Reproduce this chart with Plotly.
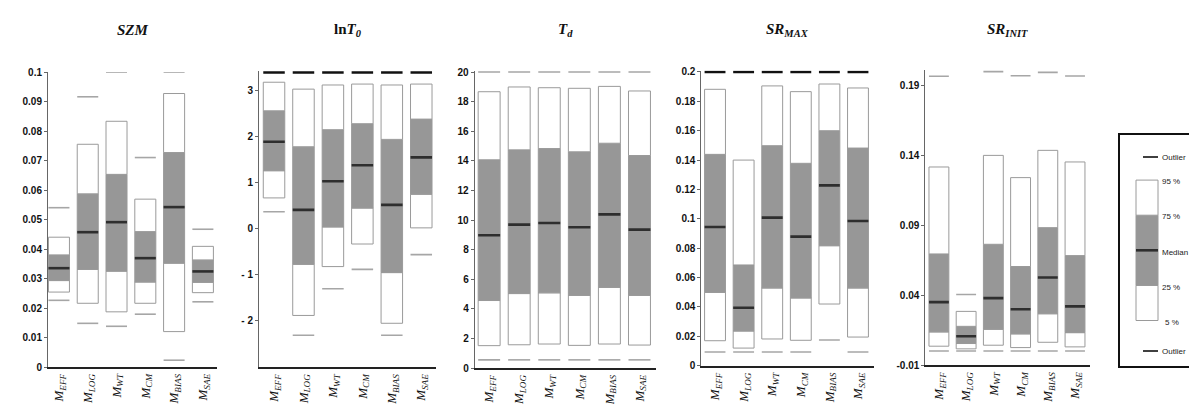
import plotly.graph_objects as go

# ---------------- data ----------------
CATS = ["EFF", "LOG", "WT", "CM", "BIAS", "SAE"]
CAT_LABELS = ["<i>M</i><sub><i>%s</i></sub>" % c for c in CATS]

SZM_P5 = [0.0254, 0.0216, 0.0187, 0.0216, 0.0120, 0.0252]
SZM_P25 = [0.0293, 0.0331, 0.0325, 0.0288, 0.0352, 0.0287]
SZM_MED = [0.0335, 0.0457, 0.0491, 0.0369, 0.0542, 0.0324]
SZM_P75 = [0.0380, 0.0587, 0.0653, 0.0459, 0.0727, 0.0363]
SZM_P95 = [0.0440, 0.0755, 0.0833, 0.0569, 0.0927, 0.0409]
SZM_OUT_HI = [0.0540, 0.0916, 0.1000, 0.0710, 0.1000, 0.0467]
SZM_OUT_LO = [0.0226, 0.0148, 0.0138, 0.0179, 0.0023, 0.0221]

LNT0_P5 = [0.66, -1.89, -0.83, -0.34, -2.06, 0.01]
LNT0_P25 = [1.25, -0.78, 0.03, 0.44, -0.96, 0.74]
LNT0_MED = [1.88, 0.40, 1.02, 1.37, 0.51, 1.54]
LNT0_P75 = [2.55, 1.77, 2.14, 2.27, 1.93, 2.37]
LNT0_P95 = [3.17, 3.02, 3.11, 3.13, 3.11, 3.13]
LNT0_OUT_HI = [3.38, 3.38, 3.38, 3.38, 3.38, 3.38]
LNT0_OUT_LO = [0.36, -2.32, -1.31, -0.89, -2.32, -0.57]

TD_P5 = [1.51, 1.57, 1.62, 1.53, 1.62, 1.55]
TD_P25 = [4.56, 5.03, 5.08, 4.90, 5.44, 4.90]
TD_MED = [8.97, 9.69, 9.80, 9.51, 10.38, 9.35]
TD_P75 = [14.07, 14.74, 14.83, 14.61, 15.19, 14.36]
TD_P95 = [18.67, 18.99, 18.94, 18.90, 19.03, 18.72]
TD_OUT_HI = [20, 20, 20, 20, 20, 20]
TD_OUT_LO = [0.55, 0.55, 0.55, 0.55, 0.55, 0.55]

SRMAX_P5 = [0.0170, 0.0120, 0.0182, 0.0173, 0.0420, 0.0195]
SRMAX_P25 = [0.0499, 0.0236, 0.0529, 0.0461, 0.0817, 0.0529]
SRMAX_MED = [0.0944, 0.0395, 0.1008, 0.0879, 0.1228, 0.0985]
SRMAX_P75 = [0.1439, 0.0686, 0.1498, 0.1378, 0.1600, 0.1482]
SRMAX_P95 = [0.1882, 0.1400, 0.1905, 0.1866, 0.1918, 0.1891]
SRMAX_OUT_HI = [0.2, 0.2, 0.2, 0.2, 0.2, 0.2]
SRMAX_OUT_LO = [0.0093, 0.0093, 0.0093, 0.0093, 0.0175, 0.0093]

SRINIT_P5 = [0.0036, 0.0017, 0.0043, 0.0026, 0.0064, 0.0031]
SRINIT_P25 = [0.0138, 0.0055, 0.0157, 0.0124, 0.0268, 0.0133]
SRINIT_MED = [0.0351, 0.0107, 0.0380, 0.0300, 0.0527, 0.0321]
SRINIT_P75 = [0.0696, 0.0178, 0.0765, 0.0606, 0.0884, 0.0684]
SRINIT_P95 = [0.1318, 0.0285, 0.1401, 0.1242, 0.1437, 0.1354]
SRINIT_OUT_HI = [0.1967, 0.0406, 0.2000, 0.1971, 0.1995, 0.1969]
SRINIT_OUT_LO = [0.0002, 0.0002, 0.0002, 0.0002, 0.0002, 0.0002]

TITLES = ["<b><i>SZM</i></b>",
          "<b>ln<i>T</i><sub><i>0</i></sub></b>",
          "<b><i>T</i><sub><i>d</i></sub></b>",
          "<b><i>SR</i><sub><i>MAX</i></sub></b>",
          "<b><i>SR</i><sub><i>INIT</i></sub></b>"]

SZM_TICKS = [0, 0.01, 0.02, 0.03, 0.04, 0.05, 0.06, 0.07, 0.08, 0.09, 0.1]
SZM_TICKTEXT = ["0", "0.01", "0.02", "0.03", "0.04", "0.05", "0.06", "0.07", "0.08", "0.09", "0.1"]
LNT0_TICKS = [-2, -1, 0, 1, 2, 3]
LNT0_TICKTEXT = ["- 2", "- 1", "0", "1", "2", "3"]
TD_TICKS = [0, 2, 4, 6, 8, 10, 12, 14, 16, 18, 20]
TD_TICKTEXT = [str(v) for v in TD_TICKS]
SRMAX_TICKS = [0, 0.02, 0.04, 0.06, 0.08, 0.1, 0.12, 0.14, 0.16, 0.18, 0.2]
SRMAX_TICKTEXT = ["0", "0.02", "0.04", "0.06", "0.08", "0.1", "0.12", "0.14", "0.16", "0.18", "0.2"]
SRINIT_TICKS = [-0.01, 0.04, 0.09, 0.14, 0.19]
SRINIT_TICKTEXT = ["-0.01", "0.04", "0.09", "0.14", "0.19"]

LEGEND_LABELS = ["5 %", "25 %", "Median", "75 %", "95 %"]
LEGEND_LEVELS = [0, 1, 2, 3, 4]

# ---------------- styling / layout ----------------
W, H = 1197, 404
GRAY_FILL = "#979797"
BOX_LINE = "#9a9a9a"
MED_COLOR = "#2e2e2e"
OUT_GRAY = "#a6a6a6"
OUT_BLACK = "#111111"
BOX_W = 0.73
HW = 0.365

panels = [
    dict(p5=SZM_P5, p25=SZM_P25, med=SZM_MED, p75=SZM_P75, p95=SZM_P95,
         hi=SZM_OUT_HI, lo=SZM_OUT_LO, hi_col=OUT_GRAY, hi_w=1.6,
         xpx=(40, 209), ypx=(64, 359), yr=(0, 0.1), xr=(-0.38, 5.49),
         ticks=SZM_TICKS, ticktext=SZM_TICKTEXT),
    dict(p5=LNT0_P5, p25=LNT0_P25, med=LNT0_MED, p75=LNT0_P75, p95=LNT0_P95,
         hi=LNT0_OUT_HI, lo=LNT0_OUT_LO, hi_col=OUT_BLACK, hi_w=2.6,
         xpx=(251, 428), ypx=(62.7, 359.3), yr=(-3.015, 3.42), xr=(-0.51, 5.5),
         ticks=LNT0_TICKS, ticktext=LNT0_TICKTEXT),
    dict(p5=TD_P5, p25=TD_P25, med=TD_MED, p75=TD_P75, p95=TD_P95,
         hi=TD_OUT_HI, lo=TD_OUT_LO, hi_col=OUT_GRAY, hi_w=1.6,
         xpx=(466.7, 648), ypx=(63, 360), yr=(0, 20.07), xr=(-0.48, 5.55),
         ticks=TD_TICKS, ticktext=TD_TICKTEXT),
    dict(p5=SRMAX_P5, p25=SRMAX_P25, med=SRMAX_MED, p75=SRMAX_P75, p95=SRMAX_P95,
         hi=SRMAX_OUT_HI, lo=SRMAX_OUT_LO, hi_col=OUT_BLACK, hi_w=2.6,
         xpx=(693.3, 866), ypx=(62.5, 357.7), yr=(0, 0.201), xr=(-0.48, 5.56),
         ticks=SRMAX_TICKS, ticktext=SRMAX_TICKTEXT),
    dict(p5=SRINIT_P5, p25=SRINIT_P25, med=SRINIT_MED, p75=SRINIT_P75, p95=SRINIT_P95,
         hi=SRINIT_OUT_HI, lo=SRINIT_OUT_LO, hi_col=OUT_GRAY, hi_w=1.6,
         xpx=(917.3, 1082), ypx=(61.7, 357.2), yr=(-0.01, 0.2014), xr=(-0.5, 5.55),
         ticks=SRINIT_TICKS, ticktext=SRINIT_TICKTEXT),
]


def seg(xs, vals, hw):
    X, Y = [], []
    for x, v in zip(xs, vals):
        if v is None:
            continue
        X += [x - hw, x + hw, None]
        Y += [v, v, None]
    return X, Y


fig = go.Figure()
layout = dict(width=W, height=H, margin=dict(l=0, r=0, t=0, b=0),
              paper_bgcolor="white", plot_bgcolor="white",
              showlegend=False, barmode="overlay", annotations=[])

XS = list(range(len(CATS)))
for i, p in enumerate(panels):
    n = "" if i == 0 else str(i + 1)
    xa, ya = "x" + n, "y" + n
    segments = [
        (p["p5"], p["p25"], "white"),
        (p["p25"], p["p75"], GRAY_FILL),
        (p["p75"], p["p95"], "white"),
    ]
    for lo_arr, hi_arr, col in segments:
        fig.add_trace(go.Bar(
            x=XS, base=lo_arr, y=[h - l for l, h in zip(lo_arr, hi_arr)],
            width=BOX_W, marker=dict(color=col, line=dict(color=BOX_LINE, width=1)),
            xaxis=xa, yaxis=ya, hoverinfo="skip"))
    mx, my = seg(XS, p["med"], HW)
    fig.add_trace(go.Scatter(x=mx, y=my, mode="lines",
                             line=dict(color=MED_COLOR, width=2.6),
                             xaxis=xa, yaxis=ya, hoverinfo="skip"))
    hx, hy = seg(XS, p["hi"], HW)
    fig.add_trace(go.Scatter(x=hx, y=hy, mode="lines",
                             line=dict(color=p["hi_col"], width=p["hi_w"]),
                             xaxis=xa, yaxis=ya, hoverinfo="skip"))
    lx, ly = seg(XS, p["lo"], HW)
    fig.add_trace(go.Scatter(x=lx, y=ly, mode="lines",
                             line=dict(color=OUT_GRAY, width=1.6),
                             xaxis=xa, yaxis=ya, hoverinfo="skip"))

    x0, x1 = p["xpx"]
    y0, y1 = p["ypx"]
    layout["xaxis" + n] = dict(
        domain=[x0 / W, x1 / W], range=list(p["xr"]), anchor=ya,
        tickmode="array", tickvals=XS, ticktext=CAT_LABELS, tickangle=-90,
        tickfont=dict(family="Liberation Serif", size=13, color="#111"),
        showline=True, linecolor="#222", linewidth=1.6, ticks="",
        showgrid=False, zeroline=False, automargin=False, fixedrange=True)
    layout["yaxis" + n] = dict(
        domain=[1 - y1 / H, 1 - y0 / H], range=list(p["yr"]), anchor=xa,
        tickmode="array", tickvals=p["ticks"], ticktext=p["ticktext"],
        tickfont=dict(family="Liberation Sans", size=10, color="#111", weight="bold"),
        showline=True, linecolor="#666", linewidth=1, ticks="outside",
        ticklen=3, tickcolor="#666",
        showgrid=False, zeroline=False, automargin=False, fixedrange=True)
    layout["annotations"].append(dict(
        text=TITLES[i], xref="paper", yref="paper",
        x=(x0 + x1) / 2 / W, y=1 - 22 / H, xanchor="center", yanchor="middle",
        showarrow=False, font=dict(family="Liberation Serif", size=15, color="#111")))

# ---------------- legend key (own axes, px-like units) ----------------
LX0, LX1, LY0, LY1 = 1112, 1189, 127, 358
STEP = 35.1
lyr = [(312.5 - LY1) / STEP, (312.5 - LY0) / STEP]
lk = "6"
box_c = 27
for lo_l, hi_l, col in [(0, 1, "white"), (1, 3, GRAY_FILL), (3, 4, "white")]:
    fig.add_trace(go.Bar(x=[box_c], base=[LEGEND_LEVELS[lo_l]],
                         y=[LEGEND_LEVELS[hi_l] - LEGEND_LEVELS[lo_l]], width=22,
                         marker=dict(color=col, line=dict(color=BOX_LINE, width=1)),
                         xaxis="x" + lk, yaxis="y" + lk, hoverinfo="skip"))
fig.add_trace(go.Scatter(x=[box_c - 11, box_c + 11], y=[LEGEND_LEVELS[2]] * 2, mode="lines",
                         line=dict(color=MED_COLOR, width=2.6),
                         xaxis="x" + lk, yaxis="y" + lk, hoverinfo="skip"))
out_top = (312.5 - 149) / STEP
out_bot = (312.5 - 343) / STEP
for yv in (out_top, out_bot):
    fig.add_trace(go.Scatter(x=[23, 38], y=[yv, yv], mode="lines",
                             line=dict(color=OUT_BLACK, width=1.6),
                             xaxis="x" + lk, yaxis="y" + lk, hoverinfo="skip"))
lab_font = dict(family="Liberation Sans", size=8, color="#222")
for lab, lev in zip(LEGEND_LABELS, LEGEND_LEVELS):
    layout["annotations"].append(dict(text=lab, xref="x" + lk, yref="y" + lk,
                                      x=40 if lab != "5 %" else 43, y=lev - 0.05,
                                      xanchor="left", yanchor="middle",
                                      showarrow=False, font=lab_font))
for yv in (out_top, out_bot):
    layout["annotations"].append(dict(text="Outlier", xref="x" + lk, yref="y" + lk,
                                      x=40, y=yv, xanchor="left", yanchor="middle",
                                      showarrow=False, font=lab_font))
layout["xaxis" + lk] = dict(domain=[LX0 / W, LX1 / W], range=[0, LX1 - LX0], anchor="y" + lk,
                            showline=True, mirror=True, linecolor="#111", linewidth=1.5,
                            showticklabels=False, ticks="", showgrid=False, zeroline=False,
                            automargin=False, fixedrange=True)
layout["yaxis" + lk] = dict(domain=[1 - LY1 / H, 1 - LY0 / H], range=lyr, anchor="x" + lk,
                            showline=True, mirror=True, linecolor="#111", linewidth=1.5,
                            showticklabels=False, ticks="", showgrid=False, zeroline=False,
                            automargin=False, fixedrange=True)

fig.update_layout(**layout)
fig.write_html("out.html")
